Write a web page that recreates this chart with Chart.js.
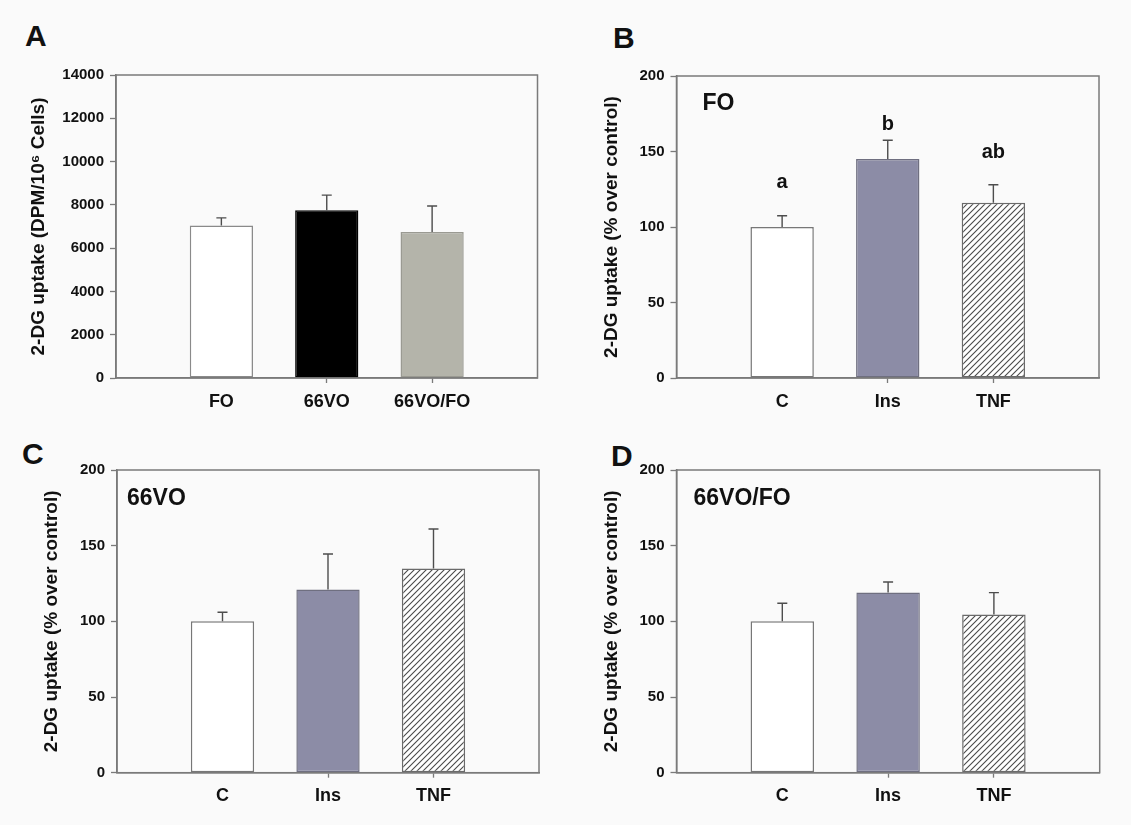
<!DOCTYPE html>
<html>
<head>
<meta charset="utf-8">
<script src="https://cdn.jsdelivr.net/npm/chart.js@4/dist/chart.umd.min.js"></script>
<style>
  body { margin: 0; background: #fafafa; width: 1131px; height: 825px; overflow: hidden; position: relative; font-family: "Liberation Sans", Arial, sans-serif; }
  canvas { position: absolute; }
  .letter { position: absolute; font-weight: bold; font-size: 30px; line-height: 1; color: #111; }
</style>
</head>
<body>
<div class="letter" style="left:25px;top:21px">A</div>
<div class="letter" style="left:613px;top:23px">B</div>
<div class="letter" style="left:22px;top:439px">C</div>
<div class="letter" style="left:611px;top:441px">D</div>
<canvas id="panelA"></canvas>
<canvas id="panelB"></canvas>
<canvas id="panelC"></canvas>
<canvas id="panelD"></canvas>
<script>
// ---- data ----
const oilGroups = ['FO', '66VO', '66VO/FO'];
const treatments = ['C', 'Ins', 'TNF'];

// A: basal uptake (DPM/10^6 cells), mean and mean+SE
const basalMean = [7050, 7750, 6750];
const basalTop  = [7400, 8450, 7950];

// B-D: % over control, mean and mean+SE
const foMean = [100, 145, 116];
const foTop  = [107.5, 157.5, 128];
const vo66Mean = [100, 121, 135];
const vo66Top  = [106, 144.5, 161];
const mixMean = [100, 119, 104.5];
const mixTop  = [112, 126, 119];

// significance letters in B and the height they sit at
const sigLetters = ['a', 'b', 'ab'];
const sigLevel = [126, 164, 146];

const yTicksA = { max: 14000, step: 2000 };
const yTicksPct = { max: 200, step: 50 };

// ---- styles ----
const FONT = '"Liberation Sans", Arial, sans-serif';
const AXIS = '#7a7a7a';

function hatch() {
    const s = 6;
    const c = document.createElement('canvas');
    c.width = s; c.height = s;
    const g = c.getContext('2d');
    g.fillStyle = '#ffffff';
    g.fillRect(0, 0, s, s);
    g.strokeStyle = '#4a4a4a';
    g.lineWidth = 1.1;
    g.beginPath();
    g.moveTo(0, s); g.lineTo(s, 0);
    g.moveTo(-1, 1); g.lineTo(1, -1);
    g.moveTo(s - 1, s + 1); g.lineTo(s + 1, s - 1);
    g.stroke();
    return g.createPattern(c, 'repeat');
}
const hatchFill = hatch();

// pad with empty slots so bars sit at 1/4, 1/2, 3/4 of the box
const pad = arr => [null, ...arr, null];

// box, error bars and in-plot text
const extras = {
    id: 'extras',
    afterDatasetsDraw(chart, args, o) {
        const ctx = chart.ctx, a = chart.chartArea;
        const y = chart.scales.y;
        const meta = chart.getDatasetMeta(0);
        ctx.save();
        // error bars (upper half only)
        ctx.strokeStyle = '#4d4d4d';
        ctx.lineWidth = 1.4;
        o.tops.forEach((t, i) => {
            const bar = meta.data[i + 1];
            const y0 = y.getPixelForValue(o.means[i]);
            const y1 = y.getPixelForValue(t);
            ctx.beginPath();
            ctx.moveTo(bar.x, y0); ctx.lineTo(bar.x, y1);
            ctx.moveTo(bar.x - 5, y1); ctx.lineTo(bar.x + 5, y1);
            ctx.stroke();
        });
        // frame
        ctx.strokeStyle = AXIS;
        ctx.lineWidth = 1.5;
        ctx.strokeRect(a.left, a.top, a.right - a.left, a.bottom - a.top);
        ctx.fillStyle = '#111';
        if (o.inset) {
            ctx.font = 'bold 23px ' + FONT;
            ctx.textBaseline = 'alphabetic';
            ctx.textAlign = 'left';
            ctx.fillText(o.inset, a.left + o.insetDx, a.top + o.insetDy);
        }
        if (o.letters) {
            ctx.font = 'bold 20px ' + FONT;
            ctx.textAlign = 'center';
            o.letters.forEach((s, i) => {
                ctx.fillText(s, meta.data[i + 1].x, y.getPixelForValue(o.letterLevel[i]));
            });
        }
        ctx.restore();
    }
};

function makePanel(id, box, cfg) {
    const el = document.getElementById(id);
    el.style.left = box.cx + 'px';
    el.style.top = box.cy + 'px';
    el.width = box.cw; el.height = box.ch;
    el.style.width = box.cw + 'px'; el.style.height = box.ch + 'px';

    new Chart(el, {
        type: 'bar',
        data: {
            labels: pad(cfg.labels),
            datasets: [{
                data: pad(cfg.means),
                backgroundColor: pad(cfg.fills),
                borderColor: pad(cfg.edges),
                borderWidth: 1.5,
                borderSkipped: false,
                barPercentage: 0.6,
                categoryPercentage: 1
            }]
        },
        options: {
            responsive: false,
            animation: false,
            events: [],
            layout: { padding: { left: box.padL, top: box.T - box.cy, right: box.cx + box.cw - box.R, bottom: 0 } },
            plugins: {
                legend: { display: false },
                tooltip: { enabled: false },
                extras: { means: cfg.means, tops: cfg.tops, inset: cfg.inset, insetDx: cfg.insetDx, insetDy: cfg.insetDy,
                          letters: cfg.letters, letterLevel: cfg.letterLevel }
            },
            scales: {
                x: {
                    offset: false,
                    afterFit: s => { s.height = box.cy + box.ch - box.B; },
                    grid: {
                        offset: false,
                        drawOnChartArea: false,
                        tickLength: 5,
                        tickWidth: 1.3,
                        color: c => (c.index === 0 || c.index === 4) ? 'rgba(0,0,0,0)' : AXIS
                    },
                    border: { color: AXIS, width: 1.5 },
                    ticks: { color: '#111', padding: 8, maxRotation: 0, autoSkip: false, font: { family: FONT, size: 18, weight: 'bold' } }
                },
                y: {
                    min: 0, max: cfg.yMax,
                    afterFit: s => { s.width = box.L - box.cx - box.padL; },
                    grid: { drawOnChartArea: false, tickLength: 6, tickWidth: 1.3, color: AXIS },
                    border: { color: AXIS, width: 1.5 },
                    ticks: { stepSize: cfg.yStep, color: '#111', padding: 6, callback: v => String(v), font: { family: FONT, size: 15, weight: 'bold' } },
                    title: { display: true, text: cfg.yTitle, color: '#111', padding: { top: 4, bottom: 0 }, font: { family: FONT, size: 19, weight: 'bold' } }
                }
            }
        },
        plugins: [extras]
    });
}

const pctTitle = '2-DG uptake (% over control)';
const treatFills = ['#ffffff', '#8c8ca6', hatchFill];
const treatEdges = ['#777777', '#6f6f80', '#6a6a6a'];

makePanel('panelA', { cx: 0, cy: 0, cw: 565, ch: 420, L: 116, T: 75, R: 537.5, B: 378, padL: 23 }, {
    labels: oilGroups, means: basalMean, tops: basalTop,
    fills: ['#ffffff', '#000000', '#b4b4aa'], edges: ['#8a8a8a', '#000000', '#9a9a92'],
    yMax: yTicksA.max, yStep: yTicksA.step, yTitle: '2-DG uptake (DPM/10\u2076 Cells)'
});
makePanel('panelB', { cx: 565, cy: 0, cw: 566, ch: 420, L: 676.5, T: 76, R: 1099, B: 378, padL: 31 }, {
    labels: treatments, means: foMean, tops: foTop, fills: treatFills, edges: treatEdges,
    yMax: yTicksPct.max, yStep: yTicksPct.step, yTitle: pctTitle,
    inset: 'FO', insetDx: 26, insetDy: 34, letters: sigLetters, letterLevel: sigLevel
});
makePanel('panelC', { cx: 0, cy: 420, cw: 565, ch: 405, L: 117, T: 470, R: 539, B: 772.7, padL: 36 }, {
    labels: treatments, means: vo66Mean, tops: vo66Top, fills: treatFills, edges: treatEdges,
    yMax: yTicksPct.max, yStep: yTicksPct.step, yTitle: pctTitle,
    inset: '66VO', insetDx: 10, insetDy: 35
});
makePanel('panelD', { cx: 565, cy: 420, cw: 566, ch: 405, L: 676.5, T: 470, R: 1099.7, B: 772.7, padL: 31 }, {
    labels: treatments, means: mixMean, tops: mixTop, fills: treatFills, edges: treatEdges,
    yMax: yTicksPct.max, yStep: yTicksPct.step, yTitle: pctTitle,
    inset: '66VO/FO', insetDx: 17, insetDy: 35
});
</script>
</body>
</html>
